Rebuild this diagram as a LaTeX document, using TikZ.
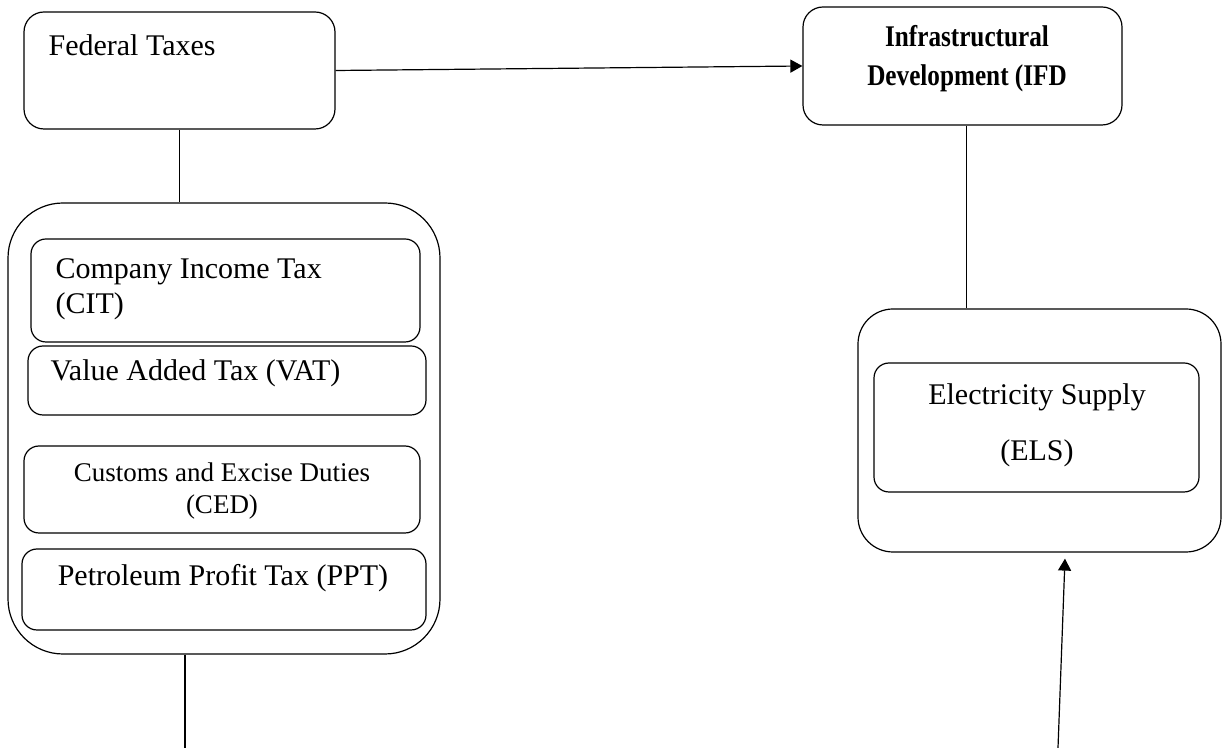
\documentclass[tikz,border=0pt]{standalone}
\usepackage{fontspec}
\setmainfont{Liberation Serif}
\newfontfamily\narrowserif[FakeStretch=0.84]{Liberation Serif}
\usetikzlibrary{arrows.meta,calc}

\begin{document}
\begin{tikzpicture}
[every node/.style={inner sep=0pt}, line width=0.6pt,
 box/.style={rectangle, rounded corners=7.5pt, draw=black, line width=0.6pt},
 txt/.style={font=\fontsize{15}{17.5}\selectfont}]
\useasboundingbox (0pt, 0pt) rectangle (611.5pt, -374pt);
% left side
\node (fed) [box, rounded corners=10pt, minimum width=155.5pt, minimum height=58.5pt] at (89.75pt, -35.25pt) {};
\node (fedtxt) [txt, anchor=west] at (24pt, -22.5pt) {Federal Taxes};
\node (taxes) [box, rounded corners=27.5pt, minimum width=216pt, minimum height=225.5pt] at (112pt, -214.25pt) {};
\node (cit) [box, minimum width=194.5pt, minimum height=51.5pt] at (112.75pt, -145.25pt) {};
\node (cittxt) [txt, anchor=west, align=left] at (27.5pt, -144.5pt) {Company Income Tax\\(CIT)};
\node (vat) [box, minimum width=199pt, minimum height=34.5pt] at (113.5pt, -190.25pt) {};
\node (vattxt) [txt, anchor=west] at (25pt, -186.5pt) {Value Added Tax (VAT)};
\node (ced) [box, minimum width=198pt, minimum height=43.5pt] at (111pt, -244.75pt) {};
\node (cedtxt) [font=\fontsize{13.5}{16}\selectfont, align=center] at (111pt, -245.5pt) {Customs and Excise Duties\\(CED)};
\node (ppt) [box, minimum width=202pt, minimum height=40.5pt] at (112pt, -294.75pt) {};
\node (ppttxt) [txt] at (111.5pt, -289pt) {Petroleum Profit Tax (PPT)};
\coordinate (taxout) at (92.5pt, -374pt);
% right side
\node (ifd) [box, rounded corners=10pt, minimum width=159.5pt, minimum height=59pt] at (481.25pt, -33pt) {};
\node (ifdtxt) [font=\narrowserif\fontsize{15}{19.5}\selectfont\bfseries, align=center] at (483.5pt, -29.5pt) {Infrastructural\\Development (IFD};
\node (els) [box, rounded corners=17.5pt, minimum width=181.5pt, minimum height=121.5pt] at (519.75pt, -215.25pt) {};
\node (elsin) [box, minimum width=162.5pt, minimum height=64.5pt] at (518.25pt, -213.75pt) {};
\node (elstxt) [font=\fontsize{15}{28}\selectfont, align=center] at (518.5pt, -212.5pt) {Electricity Supply\\(ELS)};
\coordinate (elsfrom) at (529pt, -374pt);
% connectors
\draw [-{Triangle[length=6pt, width=6.5pt]}] (fed.east) to (ifd.west);
\draw (fed.south) to (fed.south |- taxes.north);
\draw ([xshift=2pt]ifd.south) to ([xshift=2pt]ifd.south |- els.north);
\draw (taxout |- taxes.south) to (taxout);
\draw [-{Triangle[length=6pt, width=6.5pt]}] (elsfrom) to ($(els.south)+(12.75pt,-3pt)$);
\end{tikzpicture}
\end{document}
